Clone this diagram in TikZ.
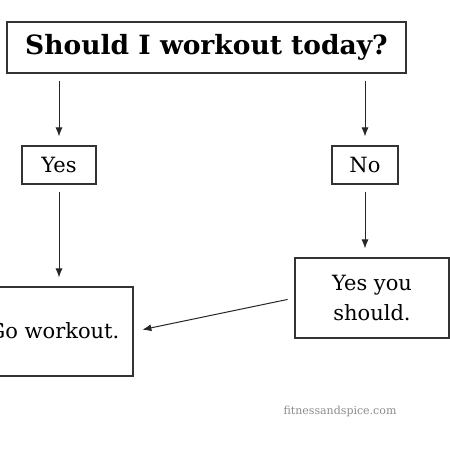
\documentclass[tikz,border=0pt]{standalone}
\usepackage{fontspec}
\setmainfont{DejaVu Serif}
\usetikzlibrary{arrows.meta}
\tikzset{>={Latex[length=9pt, width=7pt]}}
\tikzset{
    box/.style = {draw = black!80, line width = 1.1pt, inner sep = 0pt, align = center,
                  font = \fontsize{21}{30}\selectfont},
    flow/.style = {->, draw = black!85, line width = 1pt, shorten <= 7pt, shorten >= 9pt},
}

\begin{document}
\begin{tikzpicture}[x = 1pt, y = -1pt]

    \useasboundingbox[fill = white] (0,0) rectangle (450,450);

    \node[box, minimum width = 399pt, minimum height = 51pt,
          font = \fontsize{26.5}{30}\selectfont\bfseries] (q) at (206.5, 47.5)
        {Should I workout today?};

    \node[box, minimum width = 74pt, minimum height = 38pt] (yes) at (59, 165) {Yes};
    \node[box, minimum width = 66pt, minimum height = 38pt] (no) at (365, 165) {No};

    \node[box, minimum width = 158pt, minimum height = 89pt, text height = 24pt, text depth = 10pt] (go) at (54, 331.5) {Go workout.};
    \node[box, minimum width = 154pt, minimum height = 80pt] (ysh) at (372, 298) {Yes you\\ should.};

    % arrows
    \draw[flow] (q.south -| yes.north) -- (yes.north);
    \draw[flow] (q.south -| no.north) -- (no.north);
    \draw[flow] (yes.south) -- (yes.south |- go.north);
    \draw[flow] (no.south) -- (no.south |- ysh.north);
    \draw[flow] (ysh.west) -- (go.east);

    \node[text = black!45, font = \fontsize{11}{13}\selectfont] (mark) at (340, 411) {fitnessandspice.com};

\end{tikzpicture}
\end{document}
